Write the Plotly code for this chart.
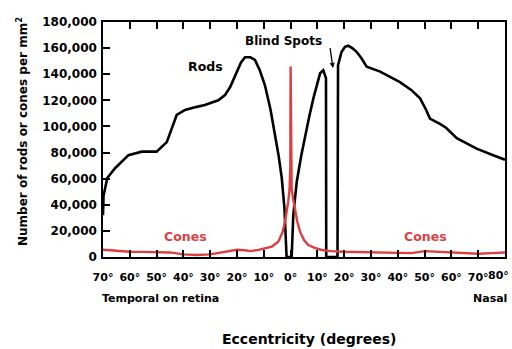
import plotly.graph_objects as go

# Rods density (per mm^2) vs eccentricity (deg; negative = temporal)
rods_x = [-70, -69.8, -68.4, -65.5, -60.5, -55.5, -50, -46.2, -42.5, -39.4, -35, -32, -27, -24.5,
          -22.6, -20.7, -18.5, -17, -15, -13.3, -11.5, -9.6, -7.5, -5.8, -4.5, -3.3, -2.3, -1.5,
          0.4, 1, 2.3, 4, 5.4, 7, 8.5, 10, 11, 12.2, 13.2, 13.3, 17.5, 17.7, 19, 20.3, 21.5, 23,
          24.7, 26.5, 28.4, 33.4, 40.8, 45, 48.3, 50.5, 52, 55.7, 58, 62, 66, 69.4, 75.6, 79.4, 80]
rods_y = [32000, 47000, 60500, 68000, 78000, 80700, 80700, 88000, 108800, 112600, 115000, 116400,
          120000, 124000, 130000, 139000, 149000, 153000, 153000, 151000, 143000, 131700, 113000,
          93000, 78000, 60500, 37500, 0, 0, 32000, 57700, 78000, 93000, 108000, 121500, 133000,
          140700, 143000, 137000, 0, 0, 147000, 157000, 161000, 161800, 160000, 157000, 152000,
          145800, 142000, 134000, 128000, 121500, 113000, 106000, 102000, 99000, 91000, 87000,
          83000, 78000, 75000, 74500]

cones_x = [-70, -65, -60, -55, -50, -45, -40, -35, -30, -25, -20, -17, -15, -12, -9.6, -7, -4.6,
           -3, -2.1, -1.5, -0.9, -0.4, -0.1, 0, 0.1, 0.4, 0.9, 1.6, 2.5, 3.5, 5, 6.6, 9, 11.6,
           15, 20, 25, 30, 35, 40, 45, 50, 55, 60, 65, 70, 75, 80]
cones_y = [5500, 4800, 4000, 3900, 3800, 3500, 2000, 1500, 2000, 4000, 5500, 5200, 4500, 5500,
           6500, 8000, 11700, 19000, 27000, 34000, 42000, 52000, 70000, 146000, 70000, 52000,
           45000, 37500, 27000, 19400, 13000, 9200, 7000, 5400, 4500, 4000, 3800, 3500, 3000,
           2800, 3000, 4500, 4000, 3000, 3000, 2500, 3000, 3500]

x_tickvals = list(range(-70, 81, 10))
x_ticktext = [f"{abs(v)}°" for v in x_tickvals]
y_tickvals = list(range(0, 180001, 20000))
y_ticktext = ["0" if v == 0 else f"{v:,}" for v in y_tickvals]

FONT = "DejaVu Sans"
RED = "#dc3f3f"

fig = go.Figure()
fig.add_trace(go.Scatter(x=rods_x, y=rods_y, mode="lines",
                         line=dict(color="black", width=2.6), showlegend=False))
fig.add_trace(go.Scatter(x=cones_x, y=cones_y, mode="lines",
                         line=dict(color=RED, width=2.4), showlegend=False))

L, R, T, B = 103, 7, 22, 92
W, H = 512, 349
pw, ph = W - L - R, H - T - B


def px(x):
    return (x - L) / pw


def py(y):
    return (H - B - y) / ph


# last tick label sits slightly left of its tick (drawn as annotation so it is not clipped)
shown_ticktext = x_ticktext[:-1] + [""]

fig.update_layout(
    width=W, height=H,
    margin=dict(l=L, r=R, t=T, b=B, autoexpand=False),
    plot_bgcolor="white", paper_bgcolor="white",
    font=dict(family=FONT, color="black", size=12, weight="bold"),
    xaxis=dict(range=[-70, 80], tickvals=x_tickvals, ticktext=shown_ticktext, automargin=False,
               ticks="inside", ticklen=7, tickwidth=1.5, tickcolor="black",
               showline=True, linecolor="black", linewidth=1.5, mirror="ticks",
               showgrid=False, zeroline=False, ticklabelstandoff=9,
               tickfont=dict(size=11, family=FONT, weight="bold")),
    yaxis=dict(range=[0, 180000], tickvals=y_tickvals, ticktext=y_ticktext, automargin=False,
               ticks="inside", ticklen=7, tickwidth=1.5, tickcolor="black",
               showline=True, linecolor="black", linewidth=1.5, mirror=True,
               showgrid=False, zeroline=False, ticklabelstandoff=2,
               tickfont=dict(size=12, family=FONT, weight="bold")),
)

ann = [
    dict(text="Rods", x=px(205), y=py(66), font=dict(size=12.5)),
    dict(text="Blind Spots", x=px(283), y=py(41), font=dict(size=12)),
    dict(text="Cones", x=px(185), y=py(236), font=dict(size=12.5, color=RED)),
    dict(text="Cones", x=px(425), y=py(236), font=dict(size=12.5, color=RED)),
    dict(text="Temporal on retina", x=px(100), y=py(298), xanchor="left", font=dict(size=11)),
    dict(text="Nasal", x=px(509), y=py(298), xanchor="right", font=dict(size=11)),
    dict(text="Eccentricity (degrees)", x=px(309), y=py(339), font=dict(size=14)),
    dict(text="Number of rods or cones per mm<sup>2</sup>", x=px(22), y=py(132),
         textangle=-90, font=dict(size=12)),
    dict(text=x_ticktext[-1], x=px(511), y=py(275), xanchor="right", font=dict(size=11)),
]
for a in ann:
    a.setdefault("xanchor", "center")
    fig.add_annotation(xref="paper", yref="paper", showarrow=False, yanchor="middle", **a)

# Blind spot arrow
fig.add_annotation(x=15.8, y=144800, xref="x", yref="y", ax=14.3, ay=166500,
                   axref="x", ayref="y", showarrow=True, arrowhead=2,
                   arrowsize=0.8, arrowwidth=1.3, arrowcolor="black", text=" ")

fig.write_html("out.html", config={"displayModeBar": False},
               post_script="document.body.style.margin='0';document.body.style.overflow='hidden';")
